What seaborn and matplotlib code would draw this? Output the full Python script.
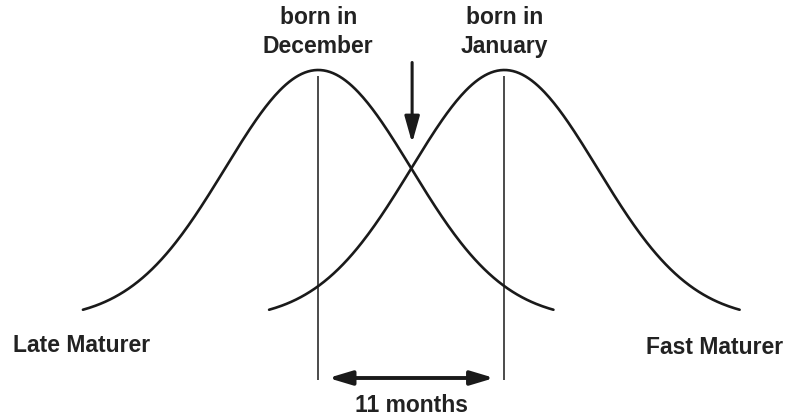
import numpy as np
import pandas as pd
import seaborn as sns
import matplotlib.pyplot as plt

# two birth cohorts, x axis in months of age difference
groups = ["born in\nDecember", "born in\nJanuary"]
means = [0.0, 11.0]
spread = 5.5
half_width = 13.9
end_labels = ["Late Maturer", "Fast Maturer"]
gap_label = "11 months"

sns.set_style("white")
plt.rcParams['font.family'] = ['Liberation Sans', 'DejaVu Sans']

rows = []
for name, mu in zip(groups, means):
    xs = np.linspace(mu - half_width, mu + half_width, 300)
    ys = np.exp(-0.5 * ((xs - mu) / spread) ** 2)
    rows.append(pd.DataFrame({"month": xs, "height": ys, "group": name}))
df = pd.concat(rows, ignore_index=True)

fig = plt.figure(figsize=(7.87, 4.19), dpi=100)
ax = fig.add_axes([0, 0, 1, 1])
sns.lineplot(data=df, x="month", y="height", hue="group",
             palette=["#1a1a1a", "#1a1a1a"], linewidth=1.9,
             legend=False, ax=ax, sort=False, estimator=None)

ax.set_xlim(-18.8, 27.7)
ax.set_ylim(-0.396, 1.28)
ax.set_axis_off()

txt = dict(fontsize=16.5, fontweight="bold", color="#222222", ha="center", va="center")

for name, mu in zip(groups, means):
    ax.vlines(mu, -0.24, 0.976, color="#1a1a1a", linewidth=1.1)
    ax.text(mu, 1.152, name, linespacing=1.3, **txt)

mid = (means[0] + means[1]) / 2
ax.annotate("", xy=(mid + 0.05, 0.708), xytext=(mid + 0.05, 1.03),
            arrowprops=dict(arrowstyle="-|>,head_length=1.6,head_width=0.45",
                            color="#1a1a1a", lw=2.2, shrinkA=0, shrinkB=0))
ax.annotate("", xy=(means[0] + 0.6, -0.232), xytext=(means[1] - 0.6, -0.232),
            arrowprops=dict(arrowstyle="<|-|>,head_length=1.4,head_width=0.42",
                            color="#1a1a1a", lw=2.8, shrinkA=0, shrinkB=0))
ax.text(mid, -0.34, gap_label, **txt)

ax.text(-13.96, -0.10, end_labels[0], **txt)
ax.text(23.4, -0.108, end_labels[1], **txt)

fig.savefig("out.png", dpi=100, facecolor="white")
